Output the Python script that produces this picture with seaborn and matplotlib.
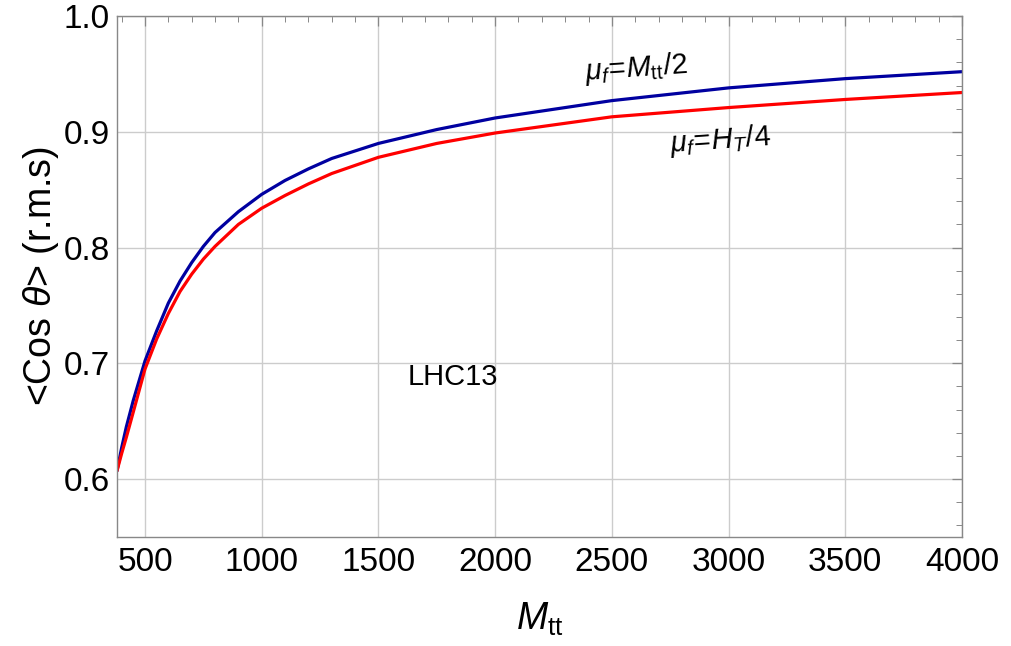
import numpy as np
import pandas as pd
import seaborn as sns
import matplotlib.pyplot as plt
from matplotlib.ticker import MultipleLocator

# values
mtt = [380, 400, 420, 450, 500, 550, 600, 650, 700, 750, 800, 900, 1000,
       1100, 1200, 1300, 1500, 1750, 2000, 2500, 3000, 3500, 4000]
cos_mtt2 = [0.607, 0.627, 0.645, 0.668, 0.702, 0.728, 0.752, 0.771, 0.787, 0.801, 0.813, 0.831, 0.846,
            0.858, 0.868, 0.877, 0.890, 0.902, 0.912, 0.927, 0.938, 0.946, 0.952]
cos_ht4 = [0.607, 0.622, 0.636, 0.658, 0.695, 0.721, 0.743, 0.762, 0.777, 0.790, 0.801, 0.820, 0.834,
           0.845, 0.855, 0.864, 0.878, 0.890, 0.899, 0.913, 0.921, 0.928, 0.934]
scales = ["Mtt/2", "HT/4"]

df = pd.concat([
    pd.DataFrame({"mtt": mtt, "cos": cos_mtt2, "scale": scales[0]}),
    pd.DataFrame({"mtt": mtt, "cos": cos_ht4, "scale": scales[1]}),
])

sns.set_theme(style="white")
plt.rcParams['font.family'] = ['Liberation Sans', 'DejaVu Sans']
plt.rcParams['text.color'] = 'black'
plt.rcParams['axes.labelcolor'] = 'black'
plt.rcParams['mathtext.fontset'] = 'custom'
plt.rcParams['mathtext.rm'] = 'Liberation Sans'
plt.rcParams['mathtext.it'] = 'Liberation Sans:italic'

fig = plt.figure(figsize=(10.12, 6.46), dpi=100)
ax = fig.add_axes([0.1156, 0.169, 0.835, 0.806])

sns.lineplot(data=df, x="mtt", y="cos", hue="scale", palette=["#0000a0", "#ff0000"],
             linewidth=2.3, legend=False, ax=ax)

ax.set_xlim(380, 4000)
ax.set_ylim(0.55, 1.0)
ax.xaxis.set_major_locator(MultipleLocator(500))
ax.xaxis.set_minor_locator(MultipleLocator(100))
ax.yaxis.set_major_locator(MultipleLocator(0.1))
ax.yaxis.set_minor_locator(MultipleLocator(0.02))
ax.yaxis.set_major_formatter(plt.FuncFormatter(lambda v, p: f"{v:.1f}"))
ax.tick_params(which='both', direction='in', top=True, right=True, color='#888888',
               labelsize=24, labelcolor='black')
ax.tick_params(which='major', length=7, width=0.9)
ax.tick_params(axis='x', which='major', pad=7)
ax.tick_params(axis='y', which='major', pad=5)
ax.tick_params(which='minor', length=4, width=0.7)
ax.grid(True, which='major', color='#cccccc', linewidth=1)
for s in ax.spines.values():
    s.set_color('#888888')
    s.set_linewidth(1)

ax.set_xlabel(r"$M_{\mathrm{tt}}$", fontsize=27, labelpad=17)
ax.set_ylabel(r"<Cos $\theta$> (r.m.s)", fontsize=27, labelpad=2)

ax.text(2385, 0.945, r"$\mu_f\!=\!M_{\mathrm{tt}}/2$", fontsize=21, rotation=4, rotation_mode='anchor')
ax.text(2750, 0.883, r"$\mu_f\!=\!H_T/4$", fontsize=21, rotation=4, rotation_mode='anchor')
ax.text(1627, 0.681, "LHC13", fontsize=21)

fig.savefig("out.png", dpi=100)
